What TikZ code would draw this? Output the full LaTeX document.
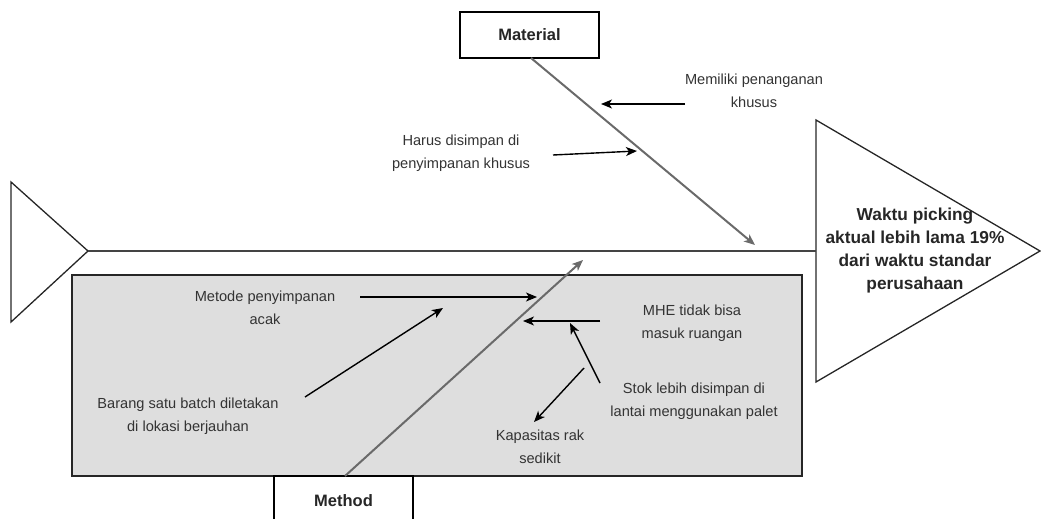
\documentclass[tikz,border=0pt]{standalone}
\usepackage{fontspec}
\setmainfont{Liberation Sans}
\usetikzlibrary{arrows.meta}
\definecolor{txt}{HTML}{333333}
\definecolor{bone}{HTML}{6A6A6A}
\definecolor{spinec}{HTML}{444444}
\definecolor{boxfill}{HTML}{DEDEDE}
\tikzset{
  note/.style={align=center, inner sep=0pt, text=txt, font=\fontsize{14.6}{23}\selectfont},
  title/.style={draw=black, line width=1.3pt, fill=white, inner sep=0pt, font=\bfseries\fontsize{16.5}{20}\selectfont, text=black!85},
  bonestyle/.style={draw=bone, line width=2pt, -{Stealth[length=11pt,width=9pt,inset=3pt]}},
  cause/.style={draw=black, line width=1.4pt, -{Stealth[length=11pt,width=9pt,inset=3pt]}},
}
\begin{document}
\begin{tikzpicture}[x=1pt,y=-1pt]
\useasboundingbox (0,0) rectangle (1041,519);
\clip (0,0) rectangle (1041,519);
% gray method area
\fill[boxfill] (72,275) rectangle (802,476);
\draw[black!85, line width=1.3pt] (72,275) rectangle (802,476);
% left triangle
\draw[black!85, line width=1.3pt, line join=miter] (11,182) -- (88,251) -- (11,322) -- cycle;
% right triangle
\draw[black!85, line width=1.3pt] (816,120) -- (1040,251) -- (816,382) -- cycle;
\node[align=center, inner sep=0pt, text=black!85, font=\bfseries\fontsize{17.3}{23}\selectfont] (effect) at (915,251) {Waktu picking\\aktual lebih lama 19\%\\dari waktu standar\\perusahaan};
% spine
\coordinate (tail) at (88,251);
\coordinate (head) at (816,251);
\draw[spinec, line width=2pt] (tail) -- (head);
% category boxes
\node[title, minimum width=139pt, minimum height=46pt] (material) at (529.5,35) {Material};
\node[title, minimum width=139pt, minimum height=50pt] (method) at (343.5,501) {Method};
% bones
\coordinate (matstart) at (531,58);
\coordinate (mattip) at (755,245);
\coordinate (metstart) at (345,476);
\coordinate (mettip) at (583,260);
\draw[bonestyle] (matstart) -- (mattip);
\draw[bonestyle] (metstart) -- (mettip);
% causes text
\node[note] (c1) at (754,91) {Memiliki penanganan\\khusus};
\node[note] (c2) at (461,153) {Harus disimpan di\\penyimpanan khusus};
\node[note] (c3) at (265,308) {Metode penyimpanan\\acak};
\node[note] (c4) at (188,416) {Barang satu batch diletakan\\di lokasi berjauhan};
\node[note] (c5) at (692,323) {MHE tidak bisa\\masuk ruangan};
\node[note] (c6) at (694,401) {Stok lebih disimpan di\\lantai menggunakan palet};
\node[note] (c7) at (540,447) {Kapasitas rak\\sedikit};
% cause arrows
\coordinate (a1s) at (685,104); \coordinate (a1e) at (601,104);
\coordinate (a2s) at (553,155); \coordinate (a2e) at (637,151);
\coordinate (a3s) at (360,297); \coordinate (a3e) at (537,297);
\coordinate (a4s) at (305,397); \coordinate (a4e) at (443,308);
\coordinate (a5s) at (600,321); \coordinate (a5e) at (523,321);
\coordinate (a6s) at (600,383); \coordinate (a6e) at (570,323);
\coordinate (a7s) at (584,368); \coordinate (a7e) at (534,422);
\draw[cause] (a1s) -- (a1e);
\draw[cause] (a2s) -- (a2e);
\draw[cause] (a3s) -- (a3e);
\draw[cause] (a4s) -- (a4e);
\draw[cause] (a5s) -- (a5e);
\draw[cause] (a6s) -- (a6e);
\draw[cause] (a7s) -- (a7e);
\end{tikzpicture}
\end{document}
